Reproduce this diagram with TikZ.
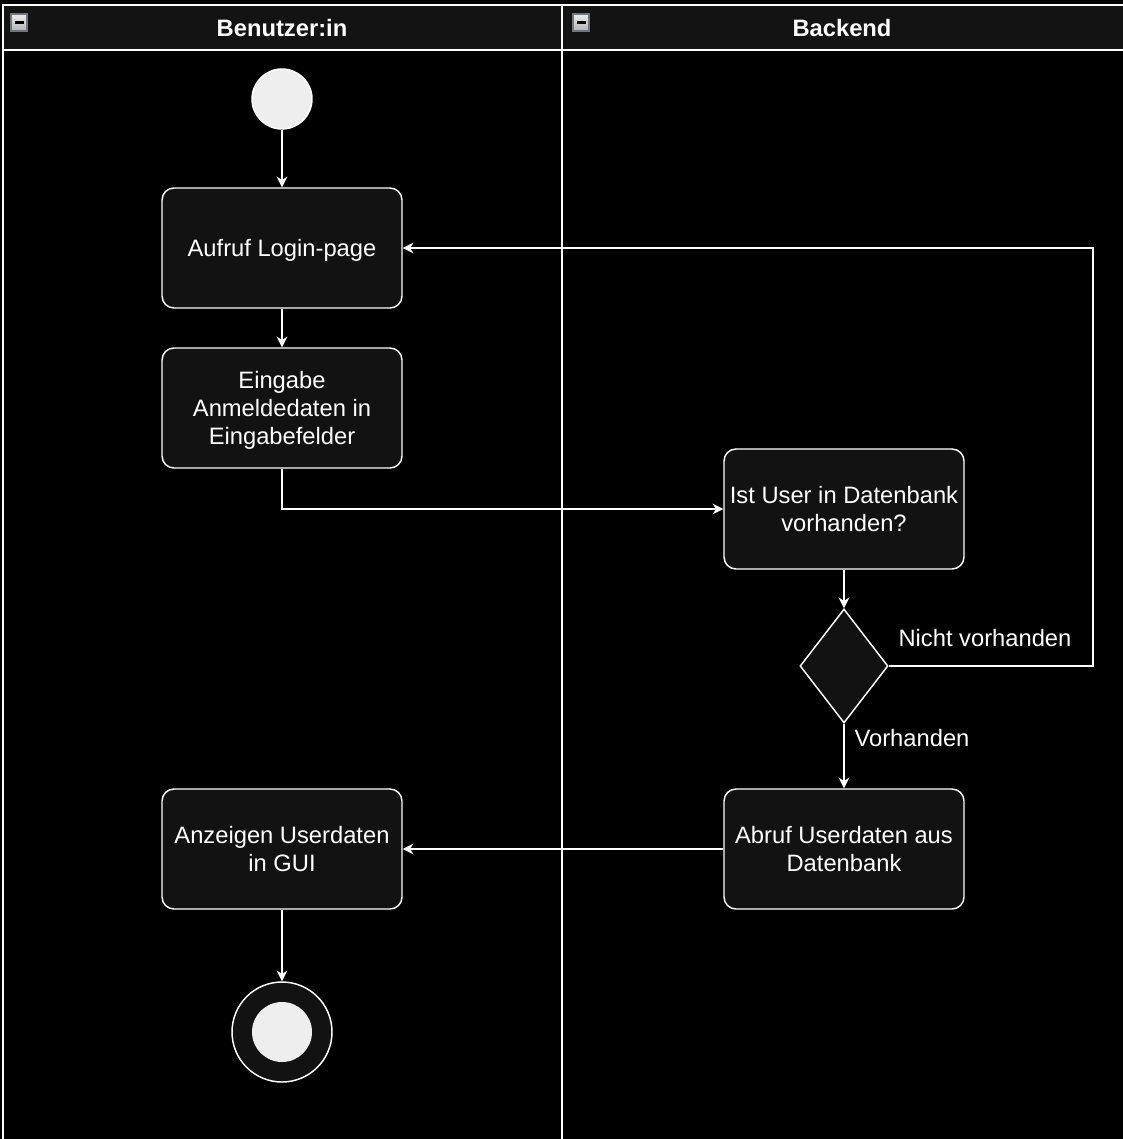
\documentclass[tikz,border=0pt]{standalone}
\usepackage{fontspec}
\setmainfont{Liberation Sans}
\usetikzlibrary{arrows.meta,shapes.geometric}

\definecolor{kopf}{HTML}{131313}
\definecolor{kasten}{HTML}{121212}
\definecolor{punkt}{HTML}{EEEEEE}
\definecolor{knopf}{HTML}{6E7680}

\tikzset{
  schrift/.style={text=white, font=\fontsize{17.8}{21}\selectfont},
  akt/.style={schrift, draw=white, line width=1.1pt, fill=kasten, rounded corners=9pt,
    minimum width=180pt, minimum height=90pt, align=center, inner sep=2pt,
    text depth=0.5pt},
  pfeil/.style={draw=white, line width=1.1pt, -{Stealth[length=8pt,width=8pt,inset=2.5pt]}},
  bahn/.style={draw=white, line width=1.5pt},
  knopfbox/.style={draw=knopf, line width=0.8pt, top color=gray!15, bottom color=gray!60}
}

\begin{document}
\begin{tikzpicture}[x=0.75pt, y=-0.75pt]
  \useasboundingbox (0,0) rectangle (1123,1139);
  \fill[black] (0,0) rectangle (1123,1139);

  % Schwimmbahnen
  \fill[kopf] (3,5) rectangle (1124,50);
  \draw[bahn] (3,1140) -- (3,5) -- (1124,5);
  \draw[bahn] (3,50) -- (1124,50);
  \draw[bahn] (562,5) -- (562,1140);
  \foreach \x in {11,573}{
    \draw[knopfbox] (\x,14) rectangle (\x+16,31);
    \draw[black, line width=1.8pt] (\x+3.5,22.5) -- (\x+12.5,22.5);
  }
  \node[schrift, font=\fontsize{17.8}{21}\selectfont\bfseries] (kopfa) at (282,28) {Benutzer:in};
  \node[schrift, font=\fontsize{17.8}{21}\selectfont\bfseries] (kopfb) at (842,28) {Backend};

  % Aktivitaeten
  \node[circle, draw=white, line width=1.1pt, fill=punkt, minimum size=45pt, inner sep=0pt] (start) at (282,99) {};
  \node[akt] (login) at (282,248) {Aufruf Login-page};
  \node[akt] (eingabe) at (282,408) {Eingabe\\Anmeldedaten in\\Eingabefelder};
  \node[akt] (pruef) at (844,509) {Ist User in Datenbank\\vorhanden?};
  \node[diamond, draw=white, line width=1.1pt, fill=kasten, minimum width=66pt, minimum height=85.5pt, inner sep=0pt] (weiche) at (844,666) {};
  \node[akt] (abruf) at (844,849) {Abruf Userdaten aus\\Datenbank};
  \node[akt] (anzeige) at (282,849) {Anzeigen Userdaten\\in GUI};
  \node[circle, draw=white, line width=1.1pt, fill=kasten, minimum size=75pt, inner sep=0pt] (ende) at (282,1032) {};
  \node[circle, fill=punkt, minimum size=45pt, inner sep=0pt] (endepunkt) at (282,1032) {};
  \coordinate (rueck) at (1093,666);

  % Pfeile
  \draw[pfeil] (start) -- (login);
  \draw[pfeil] (login) -- (eingabe);
  \draw[pfeil] (eingabe.south) |- (pruef.west);
  \draw[pfeil] (pruef) -- (weiche);
  \draw[pfeil] (weiche.east) -- (rueck) |- (login.east);
  \draw[pfeil] (weiche) -- (abruf);
  \draw[pfeil] (abruf) -- (anzeige);
  \draw[pfeil] (anzeige) -- (ende);

  % Beschriftungen
  \node[schrift] (nein) at (985,638) {Nicht vorhanden};
  \node[schrift] (ja) at (912,738) {Vorhanden};
\end{tikzpicture}
\end{document}
